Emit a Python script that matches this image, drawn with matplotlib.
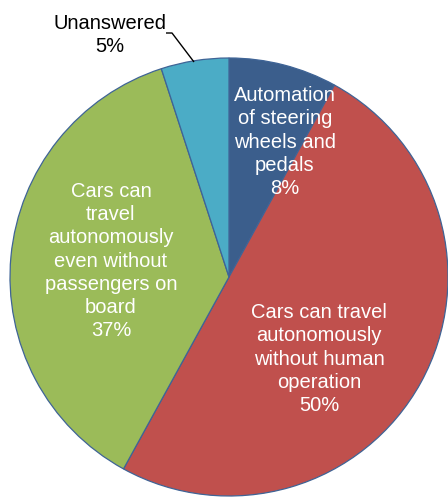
import matplotlib
matplotlib.use("Agg")
import matplotlib.pyplot as plt

# Survey answers (share of respondents, %)
categories = [
    "Automation\nof steering\nwheels and\npedals",
    "Cars can travel\nautonomously\nwithout human\noperation",
    "Cars can\ntravel\nautonomously\neven without\npassengers on\nboard",
    "Unanswered",
]
shares = [8, 50, 37, 5]
colors = ["#3B5E8C", "#C0504D", "#9BBB59", "#4BACC6"]
text_colors = ["white", "white", "white", "black"]

# Label anchor points in pixel space (x, y from top)
label_xy = [(285, 142), (319, 359), (111, 261), (110, 35)]

W, H = 448, 498
plt.rcParams["font.family"] = ["Liberation Sans", "DejaVu Sans"]

fig = plt.figure(figsize=(W / 100, H / 100), dpi=100)
ax = fig.add_axes([0, 0, 1, 1])

ax.pie(shares, colors=colors, startangle=90, counterclock=False,
       center=(229, H - 277), radius=219,
       wedgeprops=dict(edgecolor="#3F6496", linewidth=0.9))

ax.set_xlim(0, W)
ax.set_ylim(0, H)
ax.set_aspect("equal")
ax.axis("off")

for name, val, (x, y), tc in zip(categories, shares, label_xy, text_colors):
    ax.text(x, H - y, f"{name}\n{val}%", ha="center", va="center",
            color=tc, fontsize=14.5, linespacing=1.28)

# leader line for the small slice
ax.plot([166, 172, 194], [H - 33, H - 33, H - 62], color="black", lw=1.0,
        solid_capstyle="butt")

fig.savefig("out.png", dpi=100)
